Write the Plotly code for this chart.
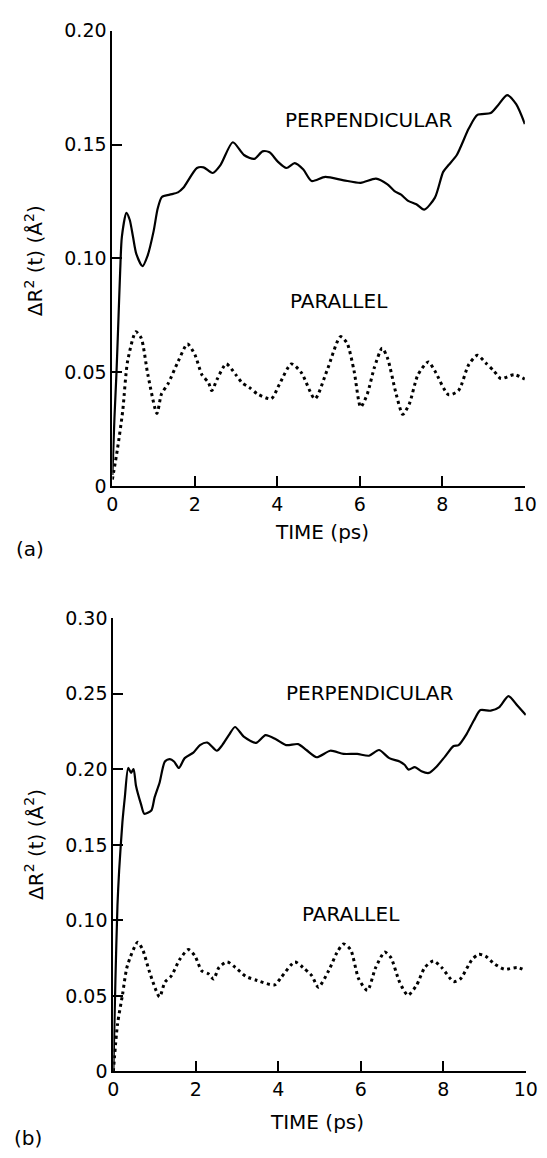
import plotly.graph_objects as go

# ---------------- data: panel (a) ----------------
a_perp_t = [0, 0.05, 0.1, 0.15, 0.19, 0.23, 0.34, 0.42, 0.5, 0.58, 0.73, 0.85, 1.0, 1.1, 1.2, 1.39, 1.59, 1.72,
            2.05, 2.21, 2.43, 2.62, 2.92, 3.19, 3.44, 3.64, 3.81, 4.01, 4.22, 4.42, 4.63, 4.83, 5.16, 5.61, 6.02,
            6.39, 6.67, 6.84, 7.0, 7.17, 7.37, 7.56, 7.82, 8.02, 8.15, 8.35, 8.64, 8.85, 9.17, 9.34, 9.57, 9.79,
            10.0]
a_perp_v = [0.005, 0.03, 0.05, 0.075, 0.095, 0.1095, 0.12, 0.117, 0.1095, 0.102, 0.0966, 0.101, 0.112, 0.122,
            0.127, 0.128, 0.129, 0.131, 0.1397, 0.140, 0.1375, 0.141, 0.151, 0.1454, 0.1437, 0.147, 0.1466,
            0.1425, 0.1397, 0.1418, 0.139, 0.134, 0.1358, 0.1343, 0.1332, 0.135, 0.1325, 0.1296, 0.128, 0.1253,
            0.1238, 0.1214, 0.1267, 0.138, 0.141, 0.1454, 0.157, 0.163, 0.1638, 0.167, 0.1717, 0.1677, 0.159]

a_par_t = [0, 0.12, 0.25, 0.37, 0.57, 0.7, 0.86, 1.08, 1.19, 1.35, 1.6, 1.82, 2.0, 2.17, 2.33, 2.41, 2.54, 2.76,
           2.99, 3.15, 3.32, 3.52, 3.85, 4.05, 4.34, 4.58, 4.91, 5.2, 5.53, 5.69, 5.86, 6.02, 6.18, 6.35, 6.54,
           6.67, 6.88, 7.04, 7.2, 7.41, 7.66, 7.82, 8.15, 8.39, 8.64, 8.85, 9.05, 9.25, 9.42, 9.74, 10.0]
a_par_v = [0.003, 0.016, 0.033, 0.055, 0.0678, 0.065, 0.049, 0.032, 0.0405, 0.045, 0.055, 0.0624, 0.0578, 0.049,
           0.0455, 0.042, 0.047, 0.0537, 0.049, 0.0453, 0.0434, 0.0405, 0.0384, 0.0448, 0.0537, 0.0499, 0.0384,
           0.0506, 0.0657, 0.0628, 0.0506, 0.0348, 0.0405, 0.052, 0.0606, 0.0563, 0.0405, 0.0316, 0.0362, 0.049,
           0.0546, 0.0506, 0.0402, 0.042, 0.0534, 0.0575, 0.0542, 0.0506, 0.0473, 0.049, 0.047]

# ---------------- data: panel (b) ----------------
b_perp_t = [0, 0.05, 0.1, 0.14, 0.22, 0.28, 0.36, 0.43, 0.49, 0.55, 0.67, 0.75, 0.92, 1.0, 1.12, 1.25, 1.37,
            1.47, 1.59, 1.73, 1.94, 2.1, 2.28, 2.51, 2.64, 2.8, 2.95, 3.17, 3.46, 3.69, 3.95, 4.19, 4.48, 4.68,
            4.93, 5.26, 5.58, 5.91, 6.2, 6.44, 6.69, 6.94, 7.06, 7.16, 7.31, 7.47, 7.65, 7.84, 8.04, 8.25, 8.37,
            8.57, 8.74, 8.9, 9.15, 9.35, 9.58, 9.8, 10.0]
b_perp_v = [0.0, 0.06, 0.11, 0.1327, 0.165, 0.182, 0.2009, 0.1977, 0.2002, 0.189, 0.177, 0.1706, 0.1727, 0.1814,
            0.1911, 0.2052, 0.2067, 0.2052, 0.2009, 0.2074, 0.211, 0.216, 0.2177, 0.2123, 0.216, 0.2226, 0.228,
            0.2214, 0.2175, 0.2226, 0.2197, 0.216, 0.2167, 0.2128, 0.208, 0.2123, 0.2102, 0.2102, 0.209, 0.2128,
            0.2074, 0.2052, 0.203, 0.1998, 0.2015, 0.1987, 0.1976, 0.2019, 0.2084, 0.2154, 0.216, 0.2236, 0.2323,
            0.2392, 0.2388, 0.241, 0.2485, 0.242, 0.236]

b_par_t = [0, 0.1, 0.22, 0.34, 0.59, 0.71, 0.88, 1.12, 1.25, 1.41, 1.61, 1.82, 1.98, 2.14, 2.31, 2.43, 2.56,
           2.76, 2.96, 3.21, 3.49, 3.91, 4.07, 4.4, 4.6, 4.81, 4.97, 5.22, 5.42, 5.58, 5.75, 5.95, 6.16, 6.36,
           6.58, 6.73, 6.94, 7.14, 7.35, 7.55, 7.76, 7.96, 8.25, 8.41, 8.7, 8.86, 9.02, 9.23, 9.48, 9.8, 10.0]
b_par_v = [0.0, 0.031, 0.0505, 0.07, 0.0855, 0.0807, 0.0656, 0.0494, 0.0591, 0.0634, 0.0742, 0.0807, 0.0764,
           0.0667, 0.0645, 0.0612, 0.0688, 0.0725, 0.0688, 0.063, 0.0602, 0.0573, 0.0623, 0.0725, 0.0688, 0.0634,
           0.0558, 0.0667, 0.0786, 0.0844, 0.0807, 0.0612, 0.0537, 0.0688, 0.079, 0.0753, 0.0591, 0.0505, 0.057,
           0.0688, 0.0732, 0.0688, 0.0595, 0.0612, 0.0742, 0.0775, 0.0764, 0.0714, 0.0677, 0.0688, 0.0667]

x_ticks = [0, 2, 4, 6, 8, 10]
x_ticktext = ["0", "2", "4", "6", "8", "10"]
a_yticks = [0, 0.05, 0.10, 0.15, 0.20]
a_yticktext = ["0", "0.05", "0.10", "0.15", "0.20"]
b_yticks = [0, 0.05, 0.10, 0.15, 0.20, 0.25, 0.30]
b_yticktext = ["0", "0.05", "0.10", "0.15", "0.20", "0.25", "0.30"]

W, H = 547, 1158
FONT = "DejaVu Sans"

fig = go.Figure()
solid = dict(color="black", width=2.2, shape="spline", smoothing=0.7)
dotted = dict(color="black", width=3, dash="3px,3.5px", shape="spline", smoothing=0.7)

fig.add_trace(go.Scatter(x=a_perp_t, y=a_perp_v, mode="lines", line=solid, xaxis="x", yaxis="y"))
fig.add_trace(go.Scatter(x=a_par_t, y=a_par_v, mode="lines", line=dotted, xaxis="x", yaxis="y"))
fig.add_trace(go.Scatter(x=b_perp_t, y=b_perp_v, mode="lines", line=solid, xaxis="x2", yaxis="y2"))
fig.add_trace(go.Scatter(x=b_par_t, y=b_par_v, mode="lines", line=dotted, xaxis="x2", yaxis="y2"))

def px_x(p):
    return p / W

def px_y(p):
    return (H - p) / H

axis_common = dict(showline=True, linecolor="black", linewidth=2, ticks="inside", ticklen=10, tickwidth=1.5,
                   tickcolor="black", showgrid=False, zeroline=False, ticklabeloverflow="allow",
                   tickfont=dict(family=FONT, size=19, color="black"))

fig.update_layout(
    width=W, height=H, margin=dict(l=0, r=0, t=0, b=0),
    paper_bgcolor="white", plot_bgcolor="white", showlegend=False,
    xaxis=dict(domain=[px_x(110), px_x(536.5)], range=[0, 10], anchor="y",
               tickvals=x_ticks, ticktext=x_ticktext, **axis_common),
    yaxis=dict(domain=[px_y(484.5), px_y(20)], range=[0, 0.20], anchor="x",
               tickvals=a_yticks, ticktext=a_yticktext, **axis_common),
    xaxis2=dict(domain=[px_x(111), px_x(537.5)], range=[0, 10], anchor="y2",
                tickvals=x_ticks, ticktext=x_ticktext, **axis_common),
    yaxis2=dict(domain=[px_y(1081), px_y(619)], range=[0, 0.30], anchor="x2",
                tickvals=b_yticks, ticktext=b_yticktext, **axis_common),
)

def ann(text, xp, yp, angle=0, size=20):
    fig.add_annotation(text=text, xref="paper", yref="paper", x=px_x(xp), y=px_y(yp),
                       xanchor="center", yanchor="middle", showarrow=False, textangle=angle,
                       font=dict(family=FONT, size=size, color="black"))

ylabel = "ΔR<sup>2</sup> (t) (Å<sup>2</sup>)"
ann(ylabel, 29, 255, angle=-90)
ann(ylabel, 29, 850, angle=-90)
ann("TIME (ps)", 327, 531)
ann("TIME (ps)", 322, 1133)
ann("(a)", 25, 548)
ann("(b)", 23, 1149)
ann("PERPENDICULAR", 375, 111)
ann("PARALLEL", 344, 296)
ann("PERPENDICULAR", 376, 695)
ann("PARALLEL", 357, 920)

fig.write_html("out.html")
